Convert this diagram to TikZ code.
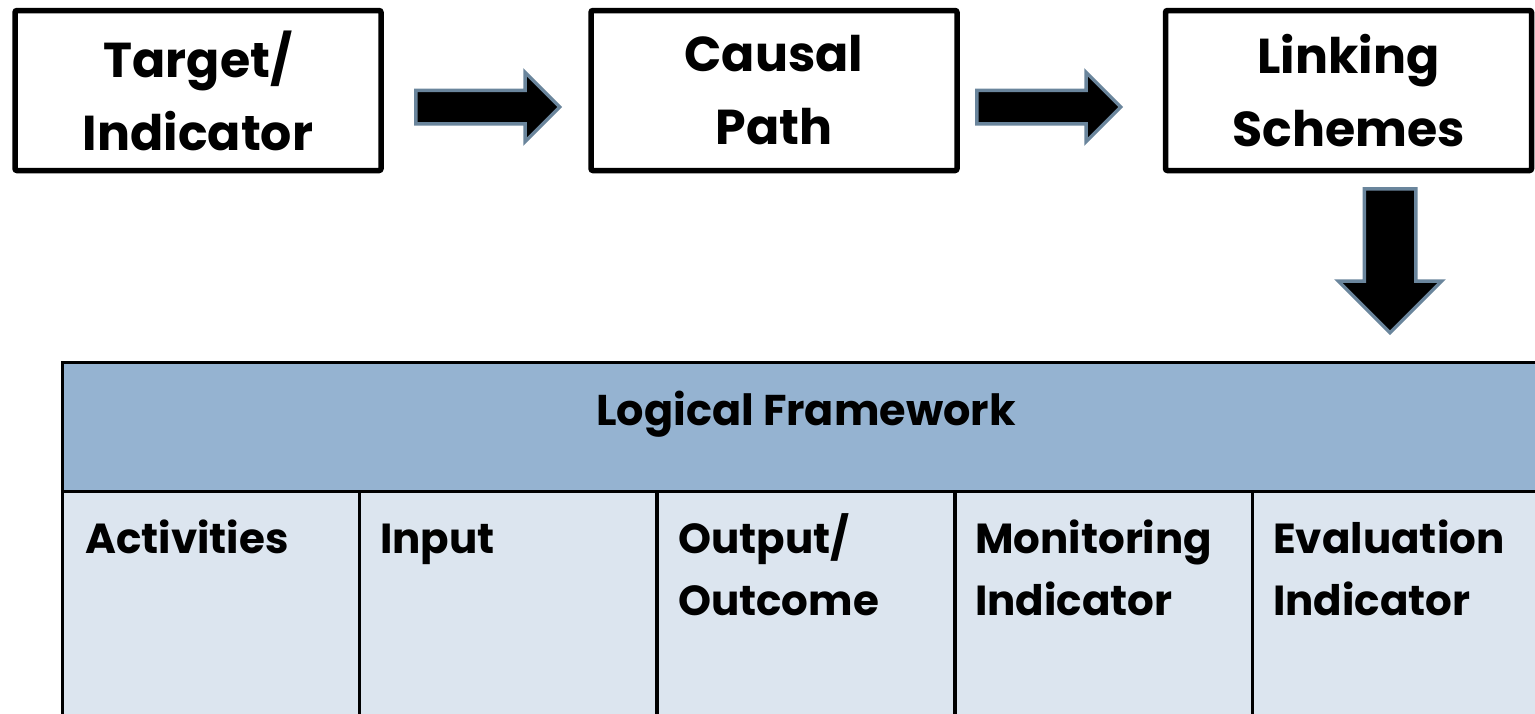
\documentclass[tikz,border=0pt]{standalone}
\usepackage{fontspec}
\setmainfont{Poppins}
\usetikzlibrary{shapes.arrows}

\definecolor{arrowedge}{RGB}{106,133,156}
\definecolor{headblue}{RGB}{149,179,209}
\definecolor{cellblue}{RGB}{220,229,239}

\tikzset{
  stagebox/.style={draw=black, line width=5.5pt, rounded corners=2pt, minimum width=366pt, minimum height=160pt,
    align=center, font=\fontsize{49}{73}\selectfont\bfseries},
  blockarrow/.style={single arrow, fill=black, draw=arrowedge, line width=3.5pt, inner sep=0pt, anchor=tail,
    text height=30pt, text depth=0pt, single arrow head extend=18pt, minimum height=144pt},
  celltext/.style={anchor=north west, align=left, inner sep=0pt,
    font=\fontsize{42}{62}\selectfont\bfseries}
}

\begin{document}
\begin{tikzpicture}[x=1pt,y=-1pt]
        \useasboundingbox (0,0) rectangle (1535,713);
        \clip (0,0) rectangle (1535,713);

        % top row
        \node[stagebox] (target) at (198,90.5) {Target/\\Indicator};
        \node[stagebox] (causal) at (774,90.5) {Causal\\Path};
        \node[stagebox] (linking) at (1348.5,90.5) {Linking\\Schemes};

        \node[blockarrow] (arr1) at (414,107) {};
        \node[blockarrow] (arr2) at (975,107) {};
        \node[blockarrow, text height=48pt, single arrow head extend=26pt, rotate=-90] (arr3) at (1390,187) {};

        % logical framework table
        \filldraw[fill=headblue, draw=black, line width=3pt] (62,362) rectangle (1550,491);
        \foreach \x in {62,359,657,955,1252}
            \filldraw[fill=cellblue, draw=black, line width=3pt] (\x,491) rectangle ++(297.5,260);

        \node[anchor=base, inner sep=0pt, font=\fontsize{43}{62}\selectfont\bfseries] (frame) at (806,425) {Logical Framework};

        \node[celltext] (act) at (85,510) {\strut Activities};
        \node[celltext] (inp) at (380,510) {\strut Input};
        \node[celltext] (out) at (678,510) {\strut Output/\\Outcome};
        \node[celltext] (mon) at (975,510) {\strut Monitoring\\Indicator};
        \node[celltext] (eva) at (1273,510) {\strut Evaluation\\Indicator};
\end{tikzpicture}
\end{document}
